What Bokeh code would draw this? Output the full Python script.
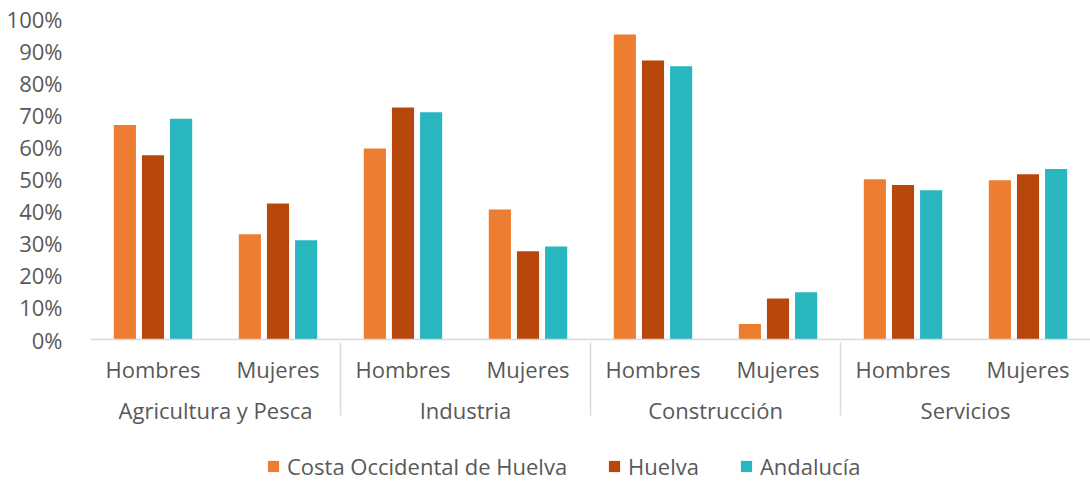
from bokeh.plotting import figure
from bokeh.models import (FactorRange, ColumnDataSource, FixedTicker, PrintfTickFormatter,
                          Legend, LegendItem, Range1d)
from bokeh.layouts import column
from bokeh.transform import dodge
from bokeh.embed import file_html
from bokeh.resources import INLINE

sectors = ["Agricultura y Pesca", "Industria", "Construcción", "Servicios"]
genders = ["Hombres", "Mujeres"]
series_names = ["Costa Occidental de Huelva", "Huelva", "Andalucía"]
costa = [66.8, 32.8, 59.5, 40.5, 95.0, 4.8, 49.9, 49.6]
huelva = [57.4, 42.4, 72.3, 27.5, 86.9, 12.8, 48.1, 51.5]
andalucia = [68.8, 30.9, 70.8, 29.0, 85.1, 14.7, 46.5, 53.1]
y_ticks = [0, 10, 20, 30, 40, 50, 60, 70, 80, 90, 100]

colors = ["#ED7D31", "#B7470B", "#28B6BF"]
FONT = "Open Sans"
FS = "22px"
TXT = "#595959"
GRID = "#D9D9D9"

factors = [(s, g) for s in sectors for g in genders]
src = ColumnDataSource(dict(x=factors, costa=costa, huelva=huelva, andalucia=andalucia))
xr = FactorRange(*factors, group_padding=0, factor_padding=0, range_padding=0)

p = figure(frame_width=1000, frame_height=321, output_backend="svg", toolbar_location=None,
           x_range=xr, y_range=(0, 100), min_border_left=90, min_border_right=0,
           min_border_top=18, min_border_bottom=110)

fields = ["costa", "huelva", "andalucia"]
offsets = [-0.225, 0.0, 0.225]
for f, off, c in zip(fields, offsets, colors):
    p.vbar(x=dodge("x", off, range=xr), top=f, width=0.177, source=src,
           fill_color=c, line_color=None)

p.xgrid.visible = False
p.ygrid.visible = False
p.outline_line_color = None

ya = p.yaxis[0]
ya.ticker = FixedTicker(ticks=y_ticks)
ya.formatter = PrintfTickFormatter(format="%d%%")
ya.axis_line_color = None
ya.major_tick_line_color = None
ya.minor_tick_line_color = None
ya.major_label_standoff = 22
ya.major_label_text_font = FONT
ya.major_label_text_font_size = FS
ya.major_label_text_color = TXT

xa = p.xaxis[0]
xa.axis_line_color = GRID
xa.axis_line_width = 1.5
xa.major_tick_line_color = None
xa.minor_tick_line_color = None
xa.major_label_text_font = FONT
xa.major_label_text_font_size = FS
xa.major_label_text_color = TXT
xa.major_label_text_line_height = 1.5
xa.major_label_standoff = 8
xa.group_text_font = FONT
xa.group_text_font_size = FS
xa.group_text_font_style = "normal"
xa.group_text_color = TXT
xa.separator_line_color = GRID
xa.separator_line_width = 1.5

# legend strip below the chart (its bars sit outside its visible y range)
lg = figure(width=1090, height=33, output_backend="svg", toolbar_location=None,
            x_range=xr, y_range=Range1d(1000, 1001), min_border=0)
lg.axis.visible = False
lg.grid.visible = False
lg.outline_line_color = None
proxies = [lg.vbar(x=dodge("x", off, range=xr), top=f, width=0.177, source=src,
                   fill_color=c, line_color=None)
           for f, off, c in zip(fields, offsets, colors)]
legend = Legend(items=[LegendItem(label=n, renderers=[r]) for n, r in zip(series_names, proxies)],
                orientation="horizontal", location=(176, 1),
                label_text_font=FONT, label_text_font_size=FS, label_text_color=TXT,
                glyph_width=14, glyph_height=14, label_standoff=7, spacing=40,
                border_line_color=None, background_fill_alpha=0, padding=0, margin=0)
lg.add_layout(legend, "center")

layout = column(p, lg, spacing=0)
open("out.html", "w").write(file_html(layout, INLINE))
